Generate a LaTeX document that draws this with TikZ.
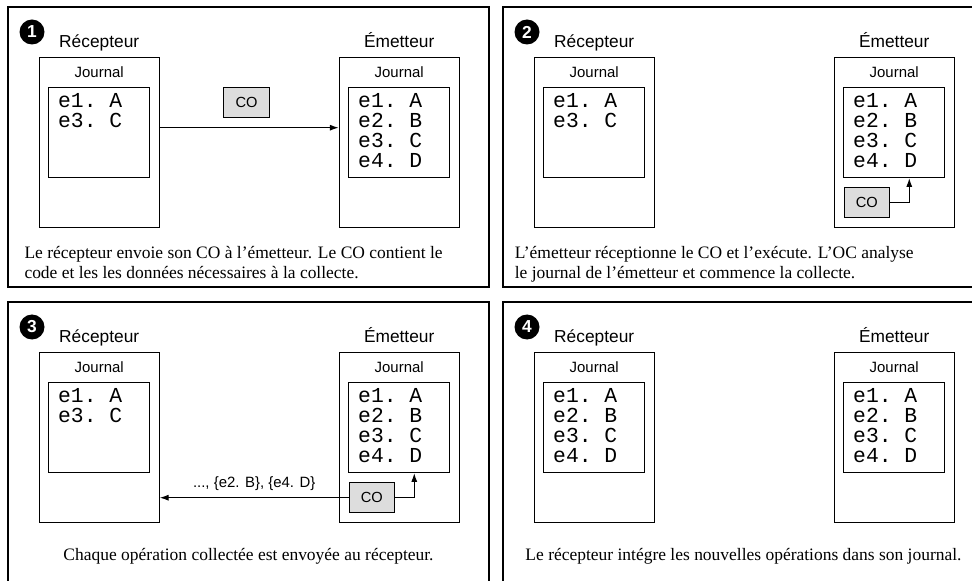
\documentclass[tikz,border=0pt]{standalone}
\usepackage{fontspec}
\setmainfont{Liberation Serif}
\setsansfont{Liberation Sans}
\setmonofont{Liberation Mono}
\usetikzlibrary{positioning,arrows.meta}
\definecolor{cofill}{RGB}{221,221,221}

\begin{document}
\begin{tikzpicture}[x=0.75pt, y=-0.75pt, line width=0.75pt]
    % Define styles
    \tikzstyle{panel} = [draw, line width=0.9pt]
    \tikzstyle{site} = [rectangle, draw, minimum width=90.2pt, minimum height=127.5pt, inner sep=0pt]
    \tikzstyle{journal} = [rectangle, draw, minimum width=75.5pt, minimum height=67.5pt, inner sep=0pt]
    \tikzstyle{jlabel} = [font=\sffamily\fontsize{11.2}{13}\selectfont, anchor=base, inner sep=0pt]
    \tikzstyle{title} = [font=\sffamily\fontsize{13}{15}\selectfont, anchor=base, inner sep=0pt]
    \tikzstyle{entries} = [font=\ttfamily\fontsize{16}{15}\selectfont, align=left, anchor=north west, inner sep=0pt]
    \tikzstyle{co} = [rectangle, draw, fill=cofill, minimum width=34.2pt, minimum height=22.5pt, inner sep=0pt, font=\sffamily\fontsize{11}{13}\selectfont]
    \tikzstyle{stepnum} = [circle, fill=black, text=white, minimum size=18.75pt, inner sep=0pt, font=\sffamily\bfseries\fontsize{13}{13}\selectfont]
    \tikzstyle{caption} = [font=\fontsize{13.1}{15.5}\selectfont, inner sep=0pt]
    \tikzstyle{arrow} = [-{Latex[length=6.5pt,width=4.5pt]}]

    \useasboundingbox (0,0) rectangle (972,581);
    \clip (0,0) rectangle (972,581);

    % Step 1
    \begin{scope}[shift={(8,7)}]
        \draw[panel] (0,0) rectangle (481,280);
        \node[stepnum] (n1) at (24,25) {1};
        \node[site] (rec1) at (91.2,135.7) {};
        \node[site] (emi1) at (391.2,135.7) {};
        \node[title] (tr1) at ([yshift=7.3pt]rec1.north) {Récepteur};
        \node[title] (te1) at ([yshift=7.3pt]emi1.north) {Émetteur};
        \node[jlabel] (lr1) at ([yshift=-15.45pt]rec1.north) {Journal};
        \node[jlabel] (le1) at ([yshift=-15.45pt]emi1.north) {Journal};
        \node[journal, below=22.5pt of rec1.north] (jr1) {};
        \node[journal, below=22.5pt of emi1.north] (je1) {};
        \node[entries] (er1) at ([xshift=7pt,yshift=-4.5pt]jr1.north west) {e1. A\\e3. C};
        \node[entries] (ee1) at ([xshift=7pt,yshift=-4.5pt]je1.north west) {e1. A\\e2. B\\e3. C\\e4. D};
        \node[co] (co1) at (238.5,95.7) {CO};
        \draw[arrow] ([yshift=11.25pt]rec1.east) -- ([yshift=11.25pt]emi1.west);
        \node[caption, anchor=base west, align=left] (c1) at (16,272) {Le récepteur envoie son CO à l’émetteur. Le CO contient le\\code et les les données nécessaires à la collecte.};
    \end{scope}

    % Step 2
    \begin{scope}[shift={(503,7)}]
        \draw[panel] (0,0) rectangle (481,280);
        \node[stepnum] (n2) at (24,25) {2};
        \node[site] (rec2) at (91.2,135.7) {};
        \node[site] (emi2) at (391.2,135.7) {};
        \node[title] (tr2) at ([yshift=7.3pt]rec2.north) {Récepteur};
        \node[title] (te2) at ([yshift=7.3pt]emi2.north) {Émetteur};
        \node[jlabel] (lr2) at ([yshift=-15.45pt]rec2.north) {Journal};
        \node[jlabel] (le2) at ([yshift=-15.45pt]emi2.north) {Journal};
        \node[journal, below=22.5pt of rec2.north] (jr2) {};
        \node[journal, below=22.5pt of emi2.north] (je2) {};
        \node[entries] (er2) at ([xshift=7pt,yshift=-4.5pt]jr2.north west) {e1. A\\e3. C};
        \node[entries] (ee2) at ([xshift=7pt,yshift=-4.5pt]je2.north west) {e1. A\\e2. B\\e3. C\\e4. D};
        \node[co, above right=7.5pt and 7.5pt of emi2.south west] (co2) {CO};
        \draw[arrow] (co2.east) -| ([xshift=11.3pt]je2.south);
        \node[caption, anchor=base west, align=left] (c2) at (11.3,272) {L’émetteur réceptionne le CO et l’exécute. L’OC analyse\\le journal de l’émetteur et commence la collecte.};
    \end{scope}

    % Step 3
    \begin{scope}[shift={(8,302)}]
        \draw[panel] (0,0) rectangle (481,280);
        \node[stepnum] (n3) at (24,25) {3};
        \node[site] (rec3) at (91.2,135.7) {};
        \node[site] (emi3) at (391.2,135.7) {};
        \node[title] (tr3) at ([yshift=7.3pt]rec3.north) {Récepteur};
        \node[title] (te3) at ([yshift=7.3pt]emi3.north) {Émetteur};
        \node[jlabel] (lr3) at ([yshift=-15.45pt]rec3.north) {Journal};
        \node[jlabel] (le3) at ([yshift=-15.45pt]emi3.north) {Journal};
        \node[journal, below=22.5pt of rec3.north] (jr3) {};
        \node[journal, below=22.5pt of emi3.north] (je3) {};
        \node[entries] (er3) at ([xshift=7pt,yshift=-4.5pt]jr3.north west) {e1. A\\e3. C};
        \node[entries] (ee3) at ([xshift=7pt,yshift=-4.5pt]je3.north west) {e1. A\\e2. B\\e3. C\\e4. D};
        \node[co, above right=7.5pt and 7.5pt of emi3.south west] (co3) {CO};
        \draw[arrow] (co3.east) -| ([xshift=11.3pt]je3.south);
        \draw[arrow] (co3.west) -- (co3.west -| rec3.east) node[midway, above=5pt, font=\sffamily\fontsize{11.2}{13}\selectfont, inner sep=0pt] (ops) {..., \{e2. B\}, \{e4. D\}};
        \node[caption, anchor=base] (c3) at (240.5,258.5) {Chaque opération collectée est envoyée au récepteur.};
    \end{scope}

    % Step 4
    \begin{scope}[shift={(503,302)}]
        \draw[panel] (0,0) rectangle (481,280);
        \node[stepnum] (n4) at (24,25) {4};
        \node[site] (rec4) at (91.2,135.7) {};
        \node[site] (emi4) at (391.2,135.7) {};
        \node[title] (tr4) at ([yshift=7.3pt]rec4.north) {Récepteur};
        \node[title] (te4) at ([yshift=7.3pt]emi4.north) {Émetteur};
        \node[jlabel] (lr4) at ([yshift=-15.45pt]rec4.north) {Journal};
        \node[jlabel] (le4) at ([yshift=-15.45pt]emi4.north) {Journal};
        \node[journal, below=22.5pt of rec4.north] (jr4) {};
        \node[journal, below=22.5pt of emi4.north] (je4) {};
        \node[entries] (er4) at ([xshift=7pt,yshift=-4.5pt]jr4.north west) {e1. A\\e2. B\\e3. C\\e4. D};
        \node[entries] (ee4) at ([xshift=7pt,yshift=-4.5pt]je4.north west) {e1. A\\e2. B\\e3. C\\e4. D};
        \node[caption, anchor=base] (c4) at (240.5,258.5) {Le récepteur intégre les nouvelles opérations dans son journal.};
    \end{scope}
\end{tikzpicture}
\end{document}
